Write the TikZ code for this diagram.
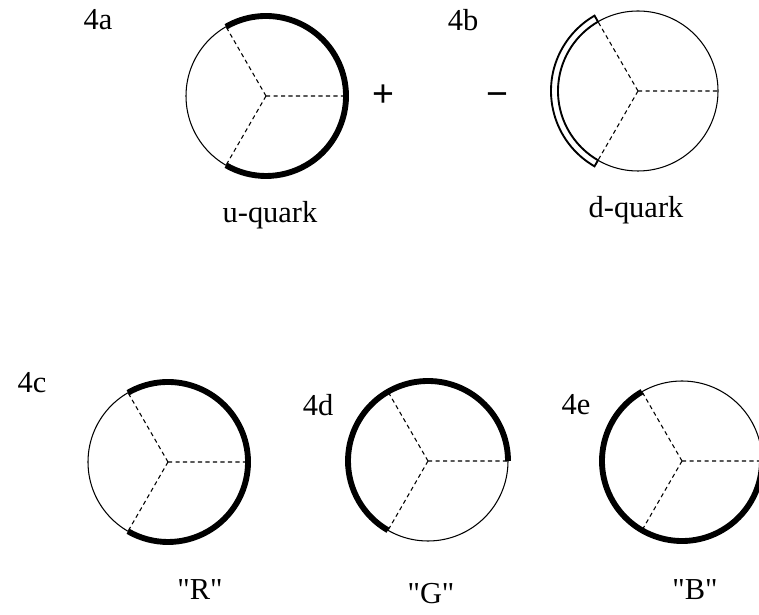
\documentclass[tikz,border=0pt]{standalone}
\usepackage{fontspec}
\setmainfont{Liberation Serif}
\newfontfamily\signfont{Liberation Sans}
\usetikzlibrary{positioning}

\begin{document}
\begin{tikzpicture}[
    x=0.03cm, y=0.03cm,
    ring/.style={line width=0.9pt},
    spoke/.style={line width=0.9pt, dash pattern=on 3.6pt off 2.8pt},
    charge/.style={line width=5pt},
    hollow/.style={line width=1.6pt, fill=white},
    lbl/.style={font=\fontsize{26}{30}\selectfont, inner sep=0pt},
    sign/.style={font=\signfont\fontsize{32}{36}\selectfont, inner sep=0pt}
]
\useasboundingbox (0,0) rectangle (759,614);
% ring centres
\coordinate (ca) at (266,518);
\coordinate (cb) at (638,523);
\coordinate (cc) at (168,152);
\coordinate (cd) at (428,153);
\coordinate (ce) at (682,153);
% rings and dashed spokes
\foreach \c in {ca,cb,cc,cd,ce} {
  \draw[ring] (\c) circle[radius=80];
  \draw[spoke] (\c) -- ++(0:80) (\c) -- ++(120:80) (\c) -- ++(240:80);
}
% thick arcs
\draw[charge] ([shift={(120:80)}]ca) arc[start angle=120, end angle=-120, radius=80];
\draw[charge] ([shift={(120:80)}]cc) arc[start angle=120, end angle=-120, radius=80];
\draw[charge] ([shift={(0:80)}]cd) arc[start angle=0, end angle=240, radius=80];
\draw[charge] ([shift={(120:80)}]ce) arc[start angle=120, end angle=360, radius=80];
% open band of the d-quark
\draw[hollow] ([shift={(120:80)}]cb) arc[start angle=120, end angle=240, radius=80]
  -- ([shift={(240:87)}]cb) arc[start angle=240, end angle=120, radius=87] -- cycle;
% labels
\node[lbl] (la) at (98,594) {4a};
\node[lbl] (lb) at (463,594) {4b};
\node[lbl] (lc) at (32,231) {4c};
\node[lbl] (ld) at (318,209) {4d};
\node[lbl] (le) at (576,209) {4e};
\node[lbl] (nu) at (270,399) {u-quark};
\node[lbl] (nd) at (636,404) {d-quark};
\node[lbl] (nr) at (200,24) {\textquotedbl R\textquotedbl};
\node[lbl] (ng) at (431,20) {\textquotedbl G\textquotedbl};
\node[lbl] (nb) at (695,24) {\textquotedbl B\textquotedbl};
\node[sign] (plus) at (383,518) {+};
\node[sign] (minus) at (497,514) {−};
\end{tikzpicture}
\end{document}
